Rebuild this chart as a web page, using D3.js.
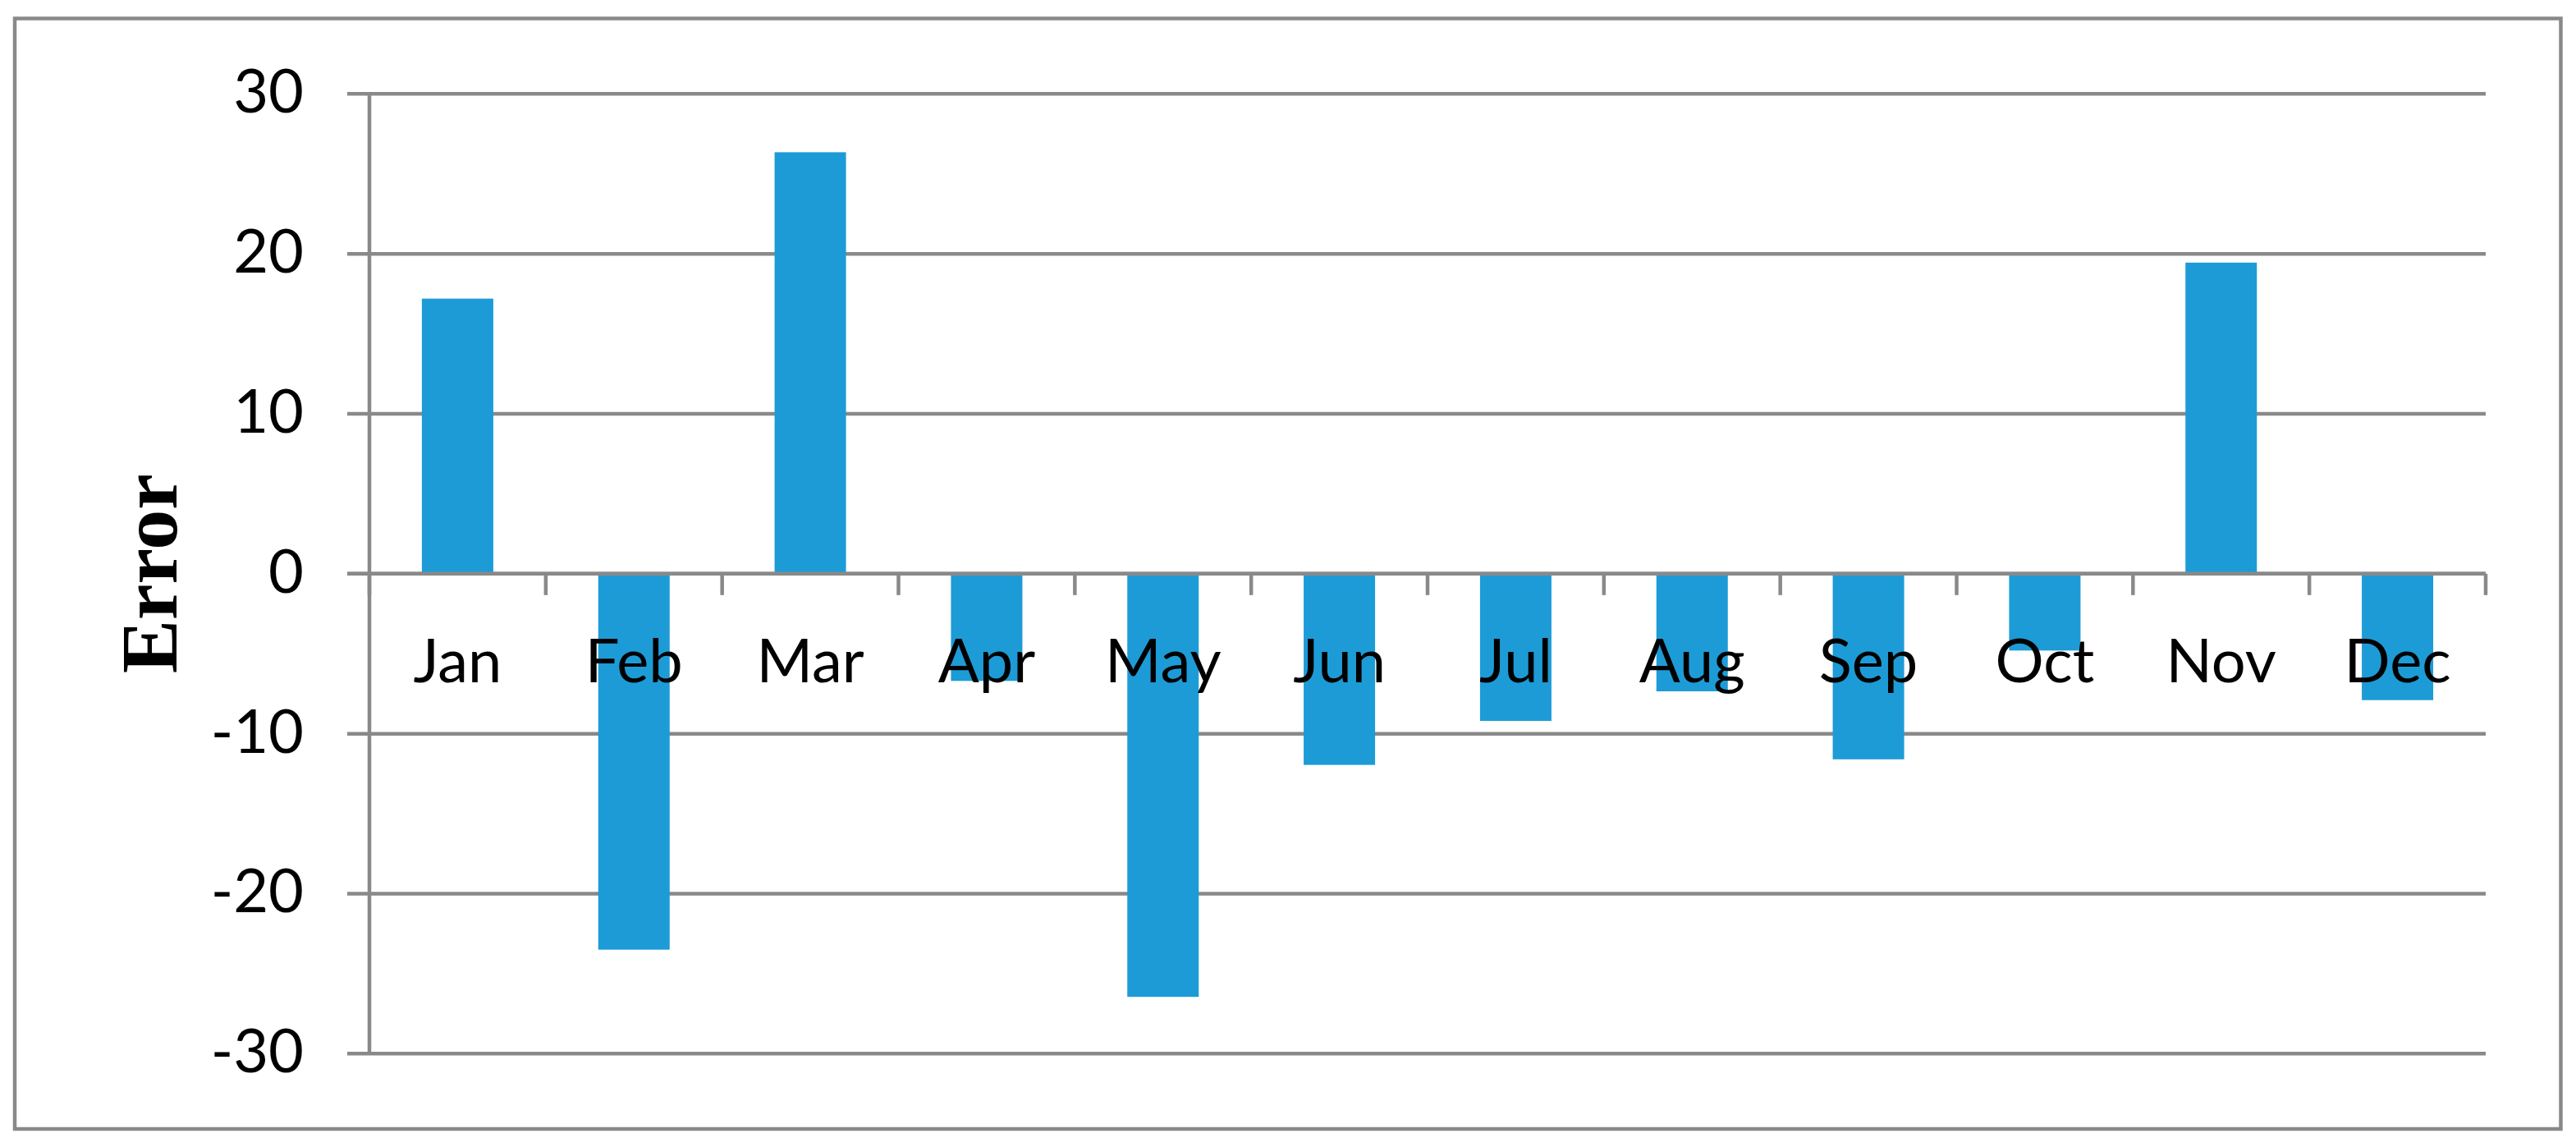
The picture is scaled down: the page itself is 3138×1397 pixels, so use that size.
<!DOCTYPE html>
<html>
<head>
<meta charset="utf-8">
<script src="https://cdn.jsdelivr.net/npm/d3@7"></script>
<style>
  html, body { margin: 0; padding: 0; background: #ffffff; }
  svg { display: block; }
</style>
</head>
<body>
<svg id="chart" width="3138" height="1397"></svg>
<script>
const months = ["Jan","Feb","Mar","Apr","May","Jun","Jul","Aug","Sep","Oct","Nov","Dec"];
const errors = [17.2, -23.5, 26.35, -6.7, -26.45, -11.95, -9.2, -7.35, -11.6, -4.8, 19.45, -7.9];
const yTicks = [30, 20, 10, 0, -10, -20, -30];
const yTitle = "Error";

const plotLeft = 450, plotRight = 3028, plotTop = 114.3, plotBottom = 1283.3;
const gray = "#898989";
const barColor = "#1D9BD7";
const labelFont = "Lato, 'Open Sans', sans-serif";

const svg = d3.select("#chart");

// outer frame
svg.append("rect")
  .attr("x", 18).attr("y", 22.5)
  .attr("width", 3119.5 - 18).attr("height", 1375 - 22.5)
  .attr("fill", "none").attr("stroke", gray).attr("stroke-width", 4.5);

const y = d3.scaleLinear().domain([-30, 30]).range([plotBottom, plotTop]);
const x = d3.scaleBand().domain(months).range([plotLeft, plotRight])
  .paddingInner(0.595).paddingOuter(0.2975);
const step = x.step();

// gridlines (including y ticks extending left)
svg.append("g").selectAll("line").data(yTicks).join("line")
  .attr("x1", plotLeft - 27).attr("x2", plotRight)
  .attr("y1", d => y(d)).attr("y2", d => y(d))
  .attr("stroke", gray).attr("stroke-width", 4.5);

// y axis line
svg.append("line")
  .attr("x1", plotLeft).attr("x2", plotLeft)
  .attr("y1", y(30)).attr("y2", y(-30))
  .attr("stroke", gray).attr("stroke-width", 4.5);

// bars
svg.append("g").selectAll("rect").data(months).join("rect")
  .attr("x", d => x(d))
  .attr("width", x.bandwidth())
  .attr("y", (d, i) => y(Math.max(0, errors[i])))
  .attr("height", (d, i) => Math.abs(y(errors[i]) - y(0)))
  .attr("fill", barColor);

// zero axis with category ticks
svg.append("line")
  .attr("x1", plotLeft - 27).attr("x2", plotRight)
  .attr("y1", y(0)).attr("y2", y(0))
  .attr("stroke", gray).attr("stroke-width", 4.5);
svg.append("g").selectAll("line").data(d3.range(months.length + 1)).join("line")
  .attr("x1", k => plotLeft + k * step).attr("x2", k => plotLeft + k * step)
  .attr("y1", y(0)).attr("y2", y(0) + 26)
  .attr("stroke", gray).attr("stroke-width", 4.5);

// y tick labels
svg.append("g").selectAll("text").data(yTicks).join("text")
  .attr("x", 370)
  .attr("y", d => y(d) + 23)
  .attr("text-anchor", "end")
  .attr("font-family", labelFont)
  .attr("font-size", 74)
  .attr("fill", "#000")
  .text(d => d);

// month labels
svg.append("g").selectAll("text").data(months).join("text")
  .attr("x", d => x(d) + x.bandwidth() / 2)
  .attr("y", 831)
  .attr("text-anchor", "middle")
  .attr("font-family", labelFont)
  .attr("font-size", 74)
  .attr("fill", "#000")
  .text(d => d);

// y axis title
svg.append("text")
  .attr("transform", `translate(215, ${y(0)}) rotate(-90)`)
  .attr("text-anchor", "middle")
  .attr("font-family", "'Liberation Serif', 'Times New Roman', serif")
  .attr("font-weight", "bold")
  .attr("font-size", 98)
  .attr("fill", "#000")
  .text(yTitle);
</script>
</body>
</html>
